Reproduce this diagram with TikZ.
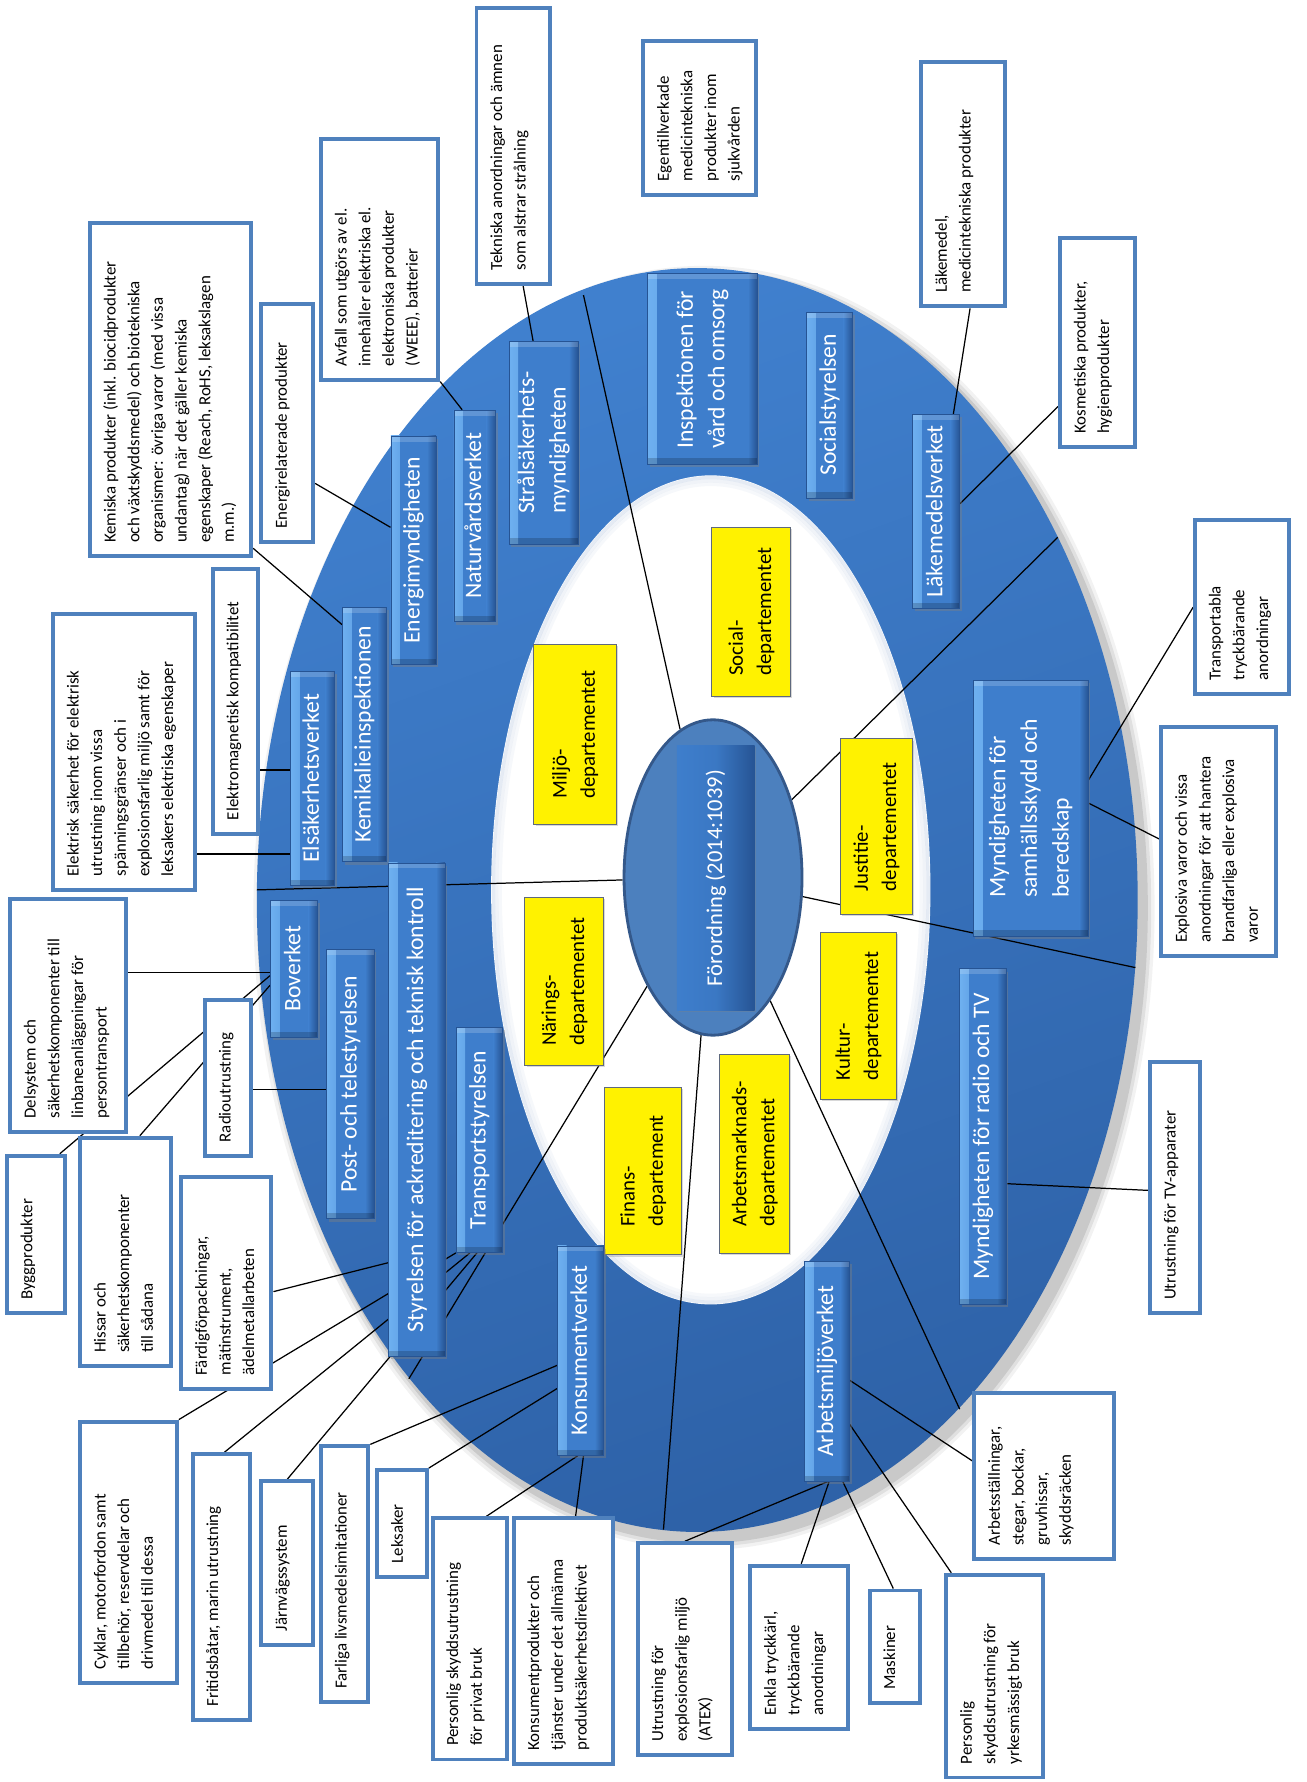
\documentclass[tikz,border=0pt]{standalone}
\usepackage{fontspec}
\setmainfont{Carlito}
\usepackage{graphicx}
\usetikzlibrary{shapes.geometric,shadows,calc}
\definecolor{ringA}{RGB}{64,128,206}
\definecolor{ringB}{RGB}{46,98,168}
\definecolor{agL}{RGB}{110,176,240}
\definecolor{agM}{RGB}{62,126,204}
\definecolor{agD}{RGB}{38,84,148}
\definecolor{bxb}{RGB}{79,129,189}
\definecolor{elf}{RGB}{76,128,190}
\definecolor{eld}{RGB}{52,88,138}
\definecolor{dpb}{RGB}{95,105,125}
\pgfdeclarelayer{ringlayer}
\pgfdeclarelayer{linelayer}
\pgfsetlayers{ringlayer,linelayer,main}
\newdimen\wpad \wpad=8pt
\newdimen\spad \spad=12pt
\newcommand\wfont{\fontsize{15}{21}\selectfont}
\newcommand\agfont{\fontsize{21}{28}\selectfont}
\newcommand\dpfont{\fontsize{18.5}{25}\selectfont}
\tikzset{
  wbox/.style={fill=white,draw=bxb,line width=3.5pt,inner sep=0pt},
  agency/.style={draw=agD,line width=0.6pt,fill=agM,text=white,inner sep=0pt,
    drop shadow={shadow xshift=2pt,shadow yshift=-2.5pt,opacity=0.4},
    path picture={
      \shade[left color=agL,right color=agM] (path picture bounding box.south west) rectangle ([xshift=8pt]path picture bounding box.north west);
      \shade[left color=agM,right color=agD] ([xshift=-8pt]path picture bounding box.south east) rectangle (path picture bounding box.north east);
      \fill[white,opacity=0.18] (path picture bounding box.north west) rectangle ([yshift=-5pt]path picture bounding box.north east);
      \fill[black,opacity=0.18] ([yshift=5pt]path picture bounding box.south west) rectangle (path picture bounding box.south east);
    }},
  dept/.style={fill=yellow,draw=dpb,line width=0.8pt,inner sep=0pt,text=black,
    drop shadow={shadow xshift=1.5pt,shadow yshift=-1.5pt,opacity=0.3}},
  fordel/.style={ellipse,fill=elf,draw=eld,line width=2.5pt,inner sep=0pt,minimum width=158pt,minimum height=280pt},
  fordrect/.style={left color=agM,right color=agD,middle color=agM!85!agD,draw=none,text=white,inner sep=0pt,
    minimum width=69pt,minimum height=235pt,drop shadow={shadow xshift=1.5pt,shadow yshift=-1.5pt,opacity=0.3}},
  conn/.style={draw=black,line width=1.1pt}
}
\newcommand\WBox[6]{%
  \pgfmathsetmacro\BXw{#4-#2}\pgfmathsetmacro\BXh{#5-#3}%
  \pgfmathsetmacro\BXx{(#2+#4)/2}\pgfmathsetmacro\BXy{(#3+#5)/2}%
  \node[wbox,minimum width=\BXw pt,minimum height=\BXh pt] (#1) at (\BXx,\BXy)
   {\rotatebox{90}{\parbox[c][\dimexpr\BXw pt-2\wpad\relax][t]{\dimexpr\BXh pt-2\spad\relax}{\wfont\begin{tabular}[t]{@{}l@{}}#6\end{tabular}}}};}
\newcommand\AGbox[6]{%
  \pgfmathsetmacro\BXw{#4-#2}\pgfmathsetmacro\BXh{#5-#3}%
  \pgfmathsetmacro\BXx{(#2+#4)/2}\pgfmathsetmacro\BXy{(#3+#5)/2}%
  \node[agency,minimum width=\BXw pt,minimum height=\BXh pt] (#1) at (\BXx,\BXy)
   {\rotatebox{90}{\agfont\begin{tabular}{@{}l@{}}#6\end{tabular}}};}
\newcommand\DPbox[6]{%
  \pgfmathsetmacro\BXw{#4-#2}\pgfmathsetmacro\BXh{#5-#3}%
  \pgfmathsetmacro\BXx{(#2+#4)/2}\pgfmathsetmacro\BXy{(#3+#5)/2}%
  \node[dept,minimum width=\BXw pt,minimum height=\BXh pt] (#1) at (\BXx,\BXy)
   {\rotatebox{90}{\dpfont\begin{tabular}{@{}l@{}}#6\end{tabular}}};}
\begin{document}
\begin{tikzpicture}[x=1pt,y=-1pt]
\useasboundingbox (0,0) rectangle (1160,1582);
\begin{pgfonlayer}{ringlayer}
\fill[white] (0,0) rectangle (1160,1582);
\foreach \d/\o in {9/0.05,6/0.07,3/0.1}{\fill[black,opacity=\o] (625,806) ellipse [x radius=391+\d,y radius=561+\d];}
\shade[top color=ringA,bottom color=ringB,shading angle=20] (619,799) ellipse [x radius=391,y radius=561];
\fill[white] (631,790) ellipse [x radius=195,y radius=368];
\foreach \d/\o in {2/0.12,5/0.07,8/0.04}{\draw[ringB,opacity=\o,line width=3pt] (631,790) ellipse [x radius=195-\d,y radius=368-\d];}
\end{pgfonlayer}

% central
\node[fordel] (ford) at (633,779) {};
\node[fordrect] (fordr) at (635.5,779.5) {\rotatebox{90}{\fontsize{20}{24}\selectfont Förordning (2014:1039)}};

% departments
\DPbox{social}{632}{468}{702}{618}{Social-\\departementet}
\DPbox{miljo}{474}{572}{547}{732}{Miljö-\\departementet}
\DPbox{justitie}{746}{656}{810}{812}{Justitie-\\departementet}
\DPbox{narings}{466}{797}{536}{946}{Närings-\\departementet}
\DPbox{kultur}{728}{828}{796}{976}{Kultur-\\departementet}
\DPbox{finans}{537}{965}{605}{1114}{Finans-\\departement}
\DPbox{arbmark}{639}{936}{701}{1113}{Arbetsmarknads-\\departementet}

% agencies
\AGbox{insp}{575}{243}{672}{412}{Inspektionen för\\vård och omsorg}
\AGbox{socst}{716}{277}{757}{442}{Socialstyrelsen}
\AGbox{lakv}{810}{368}{852}{540}{Läkemedelsverket}
\AGbox{stral}{452}{303}{513}{483}{Strålsäkerhets-\\myndigheten}
\AGbox{natur}{403}{364}{440}{552}{Naturvårdsverket}
\AGbox{energi}{347}{387}{387}{590}{Energimyndigheten}
\AGbox{kemi}{304}{539}{343}{765}{Kemikalieinspektionen}
\AGbox{elsak}{258}{596}{297}{786}{Elsäkerhetsverket}
\AGbox{styr}{345}{766}{395}{1204}{Styrelsen för ackreditering och teknisk kontroll}
\AGbox{bov}{240}{799}{282}{921}{Boverket}
\AGbox{post}{290}{843}{332}{1082}{Post- och telestyrelsen}
\AGbox{trans}{405}{912}{446}{1112}{Transportstyrelsen}
\AGbox{konsv}{495}{1106}{536}{1292}{Konsumentverket}
\AGbox{arbm}{714}{1120}{754}{1315}{Arbetsmiljöverket}
\AGbox{msb}{864}{604}{966}{831}{Myndigheten för\\samhällsskydd och\\beredskap}
\AGbox{mrtv}{852}{860}{893}{1158}{Myndigheten för radio och TV}

% white boxes
\WBox{tek}{423}{7}{488}{252}{Tekniska anordningar och ämnen\\som alstrar strålning}
\WBox{avf}{285}{123}{389}{337}{Avfall som utgörs av el.\\innehåller elektriska el.\\elektroniska produkter\\(WEEE), batterier}
\WBox{ege}{571}{36}{671}{173}{Egentillverkade\\medicintekniska\\produkter inom\\sjukvården}
\WBox{lak}{818}{55}{892}{272}{Läkemedel,\\medicintekniska produkter}
\WBox{kos}{941}{211}{1008}{397}{Kosmetiska produkter,\\hygienprodukter}
\WBox{kem}{80}{198}{223}{494}{Kemiska produkter (inkl. biocidprodukter\\och växtskyddsmedel) och biotekniska\\organismer: övriga varor (med vissa\\undantag) när det gäller kemiska\\egenskaper (Reach, RoHS, leksakslagen\\m.m.)}
\WBox{ene}{232}{270}{278}{481}{Energirelaterade produkter}
\WBox{emc}{189}{505}{229}{740}{Elektromagnetisk kompatibilitet}
\WBox{els}{47}{545}{173}{790}{Elektrisk säkerhet för elektrisk\\utrustning inom vissa\\spänningsgränser och i\\explosionsfarlig miljö samt för\\leksakers elektriska egenskaper}
\WBox{del}{9}{798}{112}{1005}{Delsystem och\\säkerhetskomponenter till\\linbaneanläggningar för\\persontransport}
\WBox{rad}{182}{888}{223}{1026}{Radioutrustning}
\WBox{byg}{6}{1026}{58}{1166}{Byggprodukter}
\WBox{his}{71}{1010}{152}{1213}{Hissar och\\säkerhetskomponenter\\till sådana}
\WBox{far}{161}{1045}{241}{1233}{Färdigförpackningar,\\mätinstrument,\\ädelmetallarbeten}
\WBox{cyk}{71}{1262}{157}{1494}{Cyklar, motorfordon samt\\tillbehör, reservdelar och\\drivmedel till dessa}
\WBox{fri}{171}{1291}{222}{1527}{Fritidsbåtar, marin utrustning}
\WBox{jar}{232}{1315}{278}{1460}{Järnvägssystem}
\WBox{fli}{285}{1284}{327}{1511}{Farliga livsmedelsimitationer}
\WBox{lek}{335}{1305}{379}{1400}{Leksaker}
\WBox{pspriv}{384}{1348}{450}{1562}{Personlig skyddsutrustning\\för privat bruk}
\WBox{kon}{456}{1348}{544}{1566}{Konsumentprodukter och\\tjänster under det allmänna\\produktsäkerhetsdirektivet}
\WBox{atex}{566}{1370}{650}{1558}{Utrustning för\\explosionsfarlig miljö\\(ATEX)}
\WBox{enk}{666}{1390}{753}{1535}{Enkla tryckkärl,\\tryckbärande\\anordningar}
\WBox{mas}{772}{1412}{817}{1512}{Maskiner}
\WBox{psyrk}{840}{1398}{926}{1578}{Personlig\\skyddsutrustning för\\yrkesmässigt bruk}
\WBox{arb}{865}{1237}{989}{1384}{Arbetsställningar,\\stegar, bockar,\\gruvhissar,\\skyddsräcken}
\WBox{tv}{1021}{943}{1065}{1166}{Utrustning för TV-apparater}
\WBox{exp}{1031}{645}{1133}{849}{Explosiva varor och vissa\\anordningar för att hantera\\brandfarliga eller explosiva\\varor}
\WBox{tra}{1061}{462}{1144}{616}{Transportabla\\tryckbärande\\anordningar}

\begin{pgfonlayer}{linelayer}
\coordinate (s1) at (518,262);
\coordinate (s2) at (939,477);
\coordinate (s3) at (1008,859);
\coordinate (s4) at (852,1251);
\coordinate (s5) at (589,1358);
\coordinate (s6) at (363,1224);
\coordinate (s7) at (228,790);
\foreach \s in {s1,s2,s3,s4,s5,s6,s7}{\draw[conn] (ford) -- (\s);}
\draw[conn] ($(tek.south west)!0.63!(tek.south east)$) -- ($(stral.north west)!0.35!(stral.north east)$);
\draw[conn] (avf.south east) -- ($(natur.north west)!0.2!(natur.north east)$);
\draw[conn] ($(ene.north east)!0.75!(ene.south east)$) -- ($(energi.north west)!0.4!(energi.south west)$);
\draw[conn] ($(kem.north east)!0.97!(kem.south east)$) -- ($(kemi.north west)!0.07!(kemi.south west)$);
\path ($(emc.north east)!0.756!(emc.south east)$) coordinate (h1);
\draw[conn] (h1) -- (h1 -| elsak.west);
\path ($(els.north east)!0.865!(els.south east)$) coordinate (h2);
\draw[conn] (h2) -- (h2 -| elsak.west);
\path ($(del.north east)!0.32!(del.south east)$) coordinate (h3);
\draw[conn] (h3) -- (h3 -| bov.west);
\path ($(rad.north east)!0.57!(rad.south east)$) coordinate (h4);
\draw[conn] (h4) -- (h4 -| post.west);
\draw[conn] ($(bov.north west)!0.55!(bov.south west)$) -- ($(byg.north west)!0.88!(byg.north east)$);
\draw[conn] ($(bov.north west)!0.62!(bov.south west)$) -- ($(his.north west)!0.65!(his.north east)$);
\draw[conn] ($(far.north east)!0.54!(far.south east)$) -- ($(styr.north west)!0.81!(styr.south west)$);
\draw[conn] (trans.south west) -- (cyk.north east);
\draw[conn] ($(trans.south west)!0.3!(trans.south east)$) -- ($(fri.north west)!0.55!(fri.north east)$);
\draw[conn] ($(trans.south west)!0.45!(trans.south east)$) -- (jar.north);
\draw[conn] ($(konsv.north west)!0.57!(konsv.south west)$) -- (fli.north east);
\draw[conn] ($(konsv.north west)!0.68!(konsv.south west)$) -- (lek.north east);
\draw[conn] ($(konsv.south west)!0.44!(konsv.south east)$) -- ($(pspriv.north west)!0.71!(pspriv.north east)$);
\draw[conn] ($(konsv.south west)!0.56!(konsv.south east)$) -- ($(kon.north west)!0.62!(kon.north east)$);
\draw[conn] ($(arbm.south west)!0.52!(arbm.south east)$) -- ($(atex.north west)!0.5!(atex.north east)$);
\draw[conn] ($(arbm.south west)!0.55!(arbm.south east)$) -- ($(enk.north west)!0.52!(enk.north east)$);
\draw[conn] ($(arbm.south west)!0.85!(arbm.south east)$) -- ($(mas.north west)!0.47!(mas.north east)$);
\draw[conn] ($(arbm.north east)!0.74!(arbm.south east)$) -- ($(psyrk.north west)!0.07!(psyrk.north east)$);
\draw[conn] ($(arbm.north east)!0.54!(arbm.south east)$) -- ($(arb.north west)!0.41!(arb.south west)$);
\draw[conn] ($(mrtv.north east)!0.64!(mrtv.south east)$) -- ($(tv.north west)!0.51!(tv.south west)$);
\draw[conn] ($(msb.north east)!0.39!(msb.south east)$) -- ($(tra.north west)!0.5!(tra.south west)$);
\draw[conn] ($(msb.north east)!0.48!(msb.south east)$) -- ($(exp.north west)!0.49!(exp.south west)$);
\draw[conn] ($(lak.south west)!0.58!(lak.south east)$) -- ($(lakv.north west)!0.86!(lakv.north east)$);
\draw[conn] ($(kos.north west)!0.8!(kos.south west)$) -- ($(lakv.north east)!0.46!(lakv.south east)$);
\end{pgfonlayer}
\end{tikzpicture}
\end{document}
